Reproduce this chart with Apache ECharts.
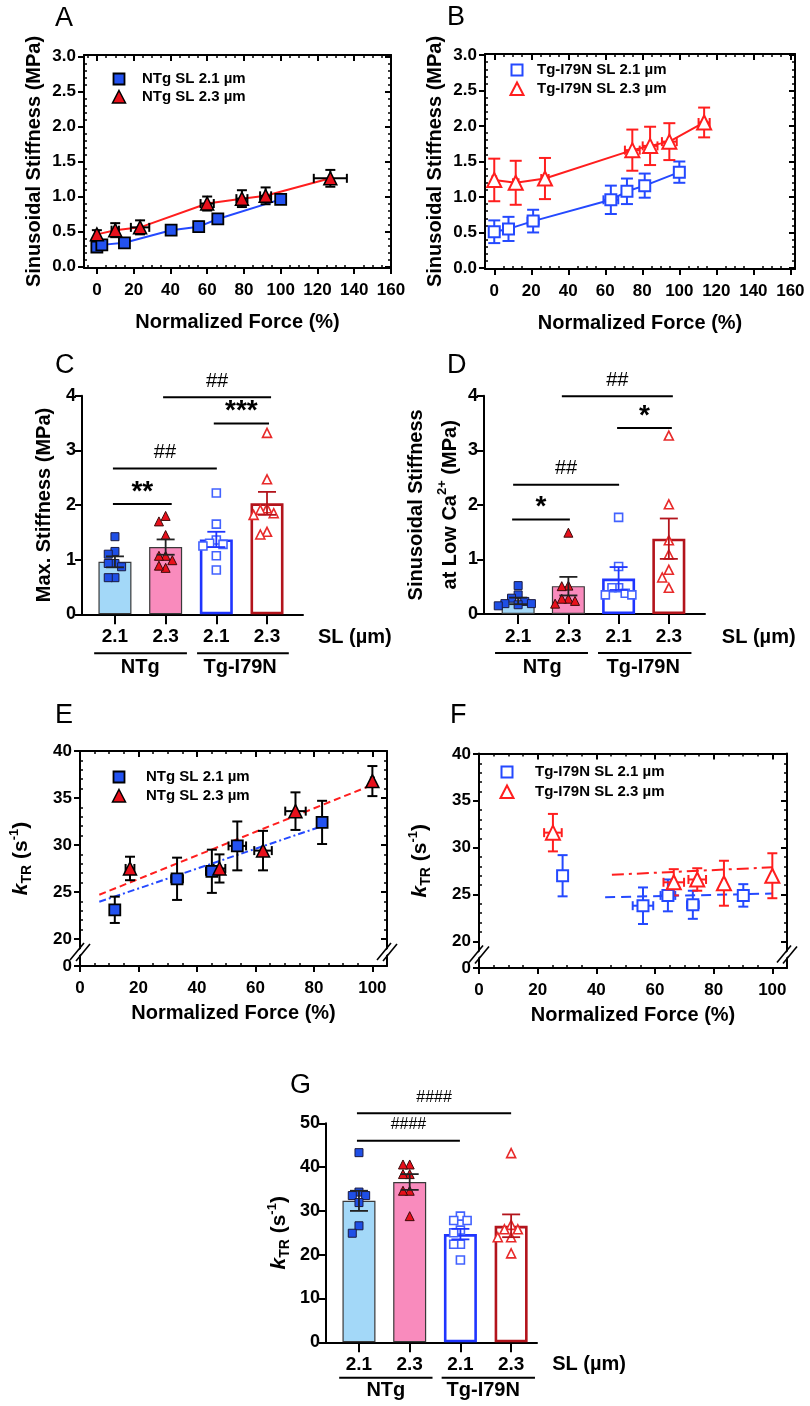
<!DOCTYPE html>
<html><head><meta charset="utf-8">
<script src="https://cdn.jsdelivr.net/npm/echarts@6/dist/echarts.min.js"></script>
<style>html,body{margin:0;padding:0;background:#fff}#c{width:810px;height:1406px}</style>
</head><body><div id="c"></div>
<script>
// ================= DATA =================
// Panel A (NTg): normalized force (%) vs sinusoidal stiffness (MPa)
const A_x21 = [0, 2.7, 15, 40.4, 55.4, 65.8, 100];
const A_y21 = [0.28, 0.31, 0.34, 0.52, 0.57, 0.68, 0.96];
const A_ey21 = [0.05, 0.05, 0.04, 0.06, 0.07, 0.05, 0.05];
const A_ex21 = [1, 1, 1, 1.5, 1.5, 2, 1];
const A_x23 = [0, 10, 23.5, 60, 78.9, 91.8, 127];
const A_y23 = [0.46, 0.52, 0.56, 0.9, 0.97, 1.01, 1.26];
const A_ey23 = [0.06, 0.1, 0.1, 0.1, 0.12, 0.12, 0.12];
const A_ex23 = [1, 2, 5, 3.6, 3, 3, 9];
// Panel B (Tg-I79N)
const B_x21 = [0, 7.7, 21, 63, 71.7, 81.3, 100];
const B_y21 = [0.51, 0.55, 0.66, 0.96, 1.08, 1.16, 1.35];
const B_ey21 = [0.16, 0.17, 0.16, 0.2, 0.18, 0.17, 0.15];
const B_ex21 = [1.5, 2, 3, 4, 2, 2, 1];
const B_x23 = [0, 11.6, 27.4, 74.6, 84.2, 94.6, 113.4];
const B_y23 = [1.24, 1.2, 1.26, 1.66, 1.72, 1.78, 2.05];
const B_ey23 = [0.3, 0.31, 0.29, 0.29, 0.27, 0.26, 0.21];
const B_ex23 = [1, 1.5, 2, 4, 4, 4, 3];
// Panel C: max stiffness (MPa)
const C_mean = [0.96, 1.23, 1.37, 2.03];
const C_sem = [0.1, 0.14, 0.14, 0.21];
const C_ntg21 = [1.42, 1.15, 1.10, 0.93, 0.93, 0.87, 0.67, 0.67];
const C_ntg23 = [1.80, 1.70, 1.45, 1.07, 1.07, 0.99, 0.85, 0.89];
const C_tg21 = [2.22, 1.65, 1.36, 1.30, 1.28, 1.25, 1.07, 0.81];
const C_tg23 = [3.32, 2.47, 1.94, 1.91, 1.85, 1.82, 1.51, 1.46];
const C_sigFrom = [-0.04, -0.04, 1.95, 0.95];
const C_sigTo = [1.12, 2.01, 3.04, 3.08];
const C_sigY = [2.02, 2.67, 3.49, 3.97];
const C_sigText = ['**', '##', '***', '##'];
// Panel D: sinusoidal stiffness at low Ca2+ (MPa)
const D_mean = [0.24, 0.51, 0.65, 1.38];
const D_sem = [0.06, 0.17, 0.21, 0.37];
const D_ntg21 = [0.52, 0.35, 0.29, 0.23, 0.19, 0.19, 0.17, 0.15];
const D_ntg23 = [1.49, 0.52, 0.51, 0.28, 0.28, 0.24, 0.19];
const D_tg21 = [1.77, 0.87, 0.48, 0.48, 0.38, 0.35, 0.35];
const D_tg23 = [3.27, 2.01, 1.35, 1.09, 0.81, 0.67, 0.48];
const D_sigFrom = [-0.12, -0.10, 1.97, 0.87];
const D_sigTo = [1.03, 2.01, 3.06, 3.08];
const D_sigY = [1.73, 2.37, 3.41, 3.99];
const D_sigText = ['*', '##', '*', '##'];
// Panel E (NTg): normalized force (%) vs kTR (s-1)
const E_x21 = [11.9, 33.2, 45.1, 53.8, 82.8];
const E_y21 = [23.1, 26.4, 27.2, 29.9, 32.4];
const E_ey21 = [1.4, 2.25, 2.3, 2.6, 2.3];
const E_ex21 = [0.5, 2, 2, 3, 1];
const E_x23 = [17.1, 47.7, 62.6, 73.7, 100];
const E_y23 = [27.5, 27.5, 29.4, 33.6, 36.8];
const E_ey23 = [1.25, 1.5, 2.1, 2.0, 1.6];
const E_ex23 = [1.5, 2, 3, 3.5, 0.5];
const E_fit21 = [[6.6, 23.95], [82.8, 32.0]];
const E_fit23 = [[6.6, 24.7], [100, 36.4]];
// Panel F (Tg-I79N)
const F_x21 = [28.5, 55.9, 64.4, 72.9, 90.1];
const F_y21 = [27.0, 23.8, 24.9, 23.9, 24.9];
const F_ey21 = [2.2, 1.95, 1.7, 1.5, 1.2];
const F_ex21 = [1, 3.5, 2.5, 2, 1];
const F_x23 = [25.2, 66.4, 74.4, 83.5, 100];
const F_y23 = [31.6, 26.3, 26.6, 26.2, 27.0];
const F_ey23 = [2.0, 1.4, 1.2, 2.4, 2.4];
const F_ex23 = [3, 3.5, 3, 0.5, 0];
const F_fit21 = [[43, 24.7], [100, 25.1]];
const F_fit23 = [[45.3, 27.1], [100, 27.9]];
// Panel G: kTR (s-1)
const G_mean = [32.3, 36.6, 24.7, 26.6];
const G_sem = [2.3, 1.8, 1.2, 2.6];
const G_ntg21 = [43.3, 34.3, 33.5, 33.5, 31.9, 26.6, 24.9];
const G_ntg23 = [40.6, 40.6, 38.4, 38.4, 34.6, 34.6, 28.8];
const G_tg21 = [28.8, 27.8, 27.8, 25.6, 25.0, 22.4, 22.4, 18.8];
const G_tg23 = [43.2, 26.8, 25.8, 25.8, 24.0, 24.0, 20.3];
const G_sigFrom = [-0.04, -0.04];
const G_sigTo = [1.99, 3.0];
const G_sigY = [46.0, 52.3];
const G_sigText = ['####', '####'];
// Tick labels and categories
const A_xTicks = [0, 20, 40, 60, 80, 100, 120, 140, 160];
const A_yTicks = [0, 0.5, 1, 1.5, 2, 2.5, 3];
const E_xTicks = [0, 20, 40, 60, 80, 100];
const E_yTicks = [20, 25, 30, 35, 40];
const E_breakLabel = '0';
const CD_yTicks = [0, 1, 2, 3, 4];
const G_yTicks = [0, 10, 20, 30, 40, 50];
const barCats = ['2.1', '2.3', '2.1', '2.3'];
const groupNames = ['NTg', 'Tg-I79N'];
const legendNTg = ['NTg SL 2.1 µm', 'NTg SL 2.3 µm'];
const legendTg = ['Tg-I79N SL 2.1 µm', 'Tg-I79N SL 2.3 µm'];

// ================= STYLE =================
const FONT = '"Liberation Sans", Arial, Helvetica, sans-serif';
const BLUE = '#2449ff', RED = '#ff1e1e';
const BLUE_FILL = '#2352f0', RED_FILL = '#e8101b';
const BAR_FILL = ['#a3d8f8', '#f98bbd', '#ffffff', '#ffffff'];
const BAR_BORDER = ['#3a3a3a', '#3a3a3a', '#1f35ff', '#b3141c'];
const BAR_BW = [1.2, 1.2, 2.6, 2.6];
const BAR_ERR = ['#222222', '#222222', '#1f35ff', '#b3141c'];

function range(a, b, s) { const r = []; for (let k = 0; a + k * s <= b + 1e-9; k++) r.push(+(a + k * s).toFixed(6)); return r; }
function minors(a, b, s, major) { return range(a, b, s).filter(v => Math.abs(v / major - Math.round(v / major)) > 1e-6); }

const grids = [
  {left: 84, top: 55, width: 307, height: 213},      // A
  {left: 485, top: 54, width: 310, height: 215},     // B
  {left: 82, top: 395.7, width: 221, height: 218.6}, // C
  {left: 484, top: 395.7, width: 221, height: 218.3},// D
  {left: 80, top: 751, width: 307, height: 215},     // E
  {left: 479, top: 753.5, width: 308, height: 214.5},// F
  {left: 326, top: 1123.3, width: 211, height: 219}  // G
];
grids.forEach(g => { g.containLabel = false; g.outerBoundsMode = 'none'; });

const xAxis = [], yAxis = [], mainX = [], mainY = [];
const BOLD = {color: '#000', fontWeight: 'bold', fontFamily: FONT};
const AXLINE = {show: true, onZero: false, lineStyle: {color: '#000', width: 2}};
function vAxis(g, rng, pos) {
  return {type: 'value', gridIndex: g, min: rng[0], max: rng[1], position: pos, silent: true,
    splitLine: {show: false}, axisLine: {show: false, onZero: false}, axisTick: {show: false}, axisLabel: {show: false}};
}
function tickAxis(g, rng, pos, ticks, len, inside, line) {
  const a = vAxis(g, rng, pos);
  if (line) a.axisLine = AXLINE;
  a.axisTick = {show: true, inside: inside, length: len, customValues: ticks, lineStyle: {color: '#000', width: len > 4 ? 2 : 1.5}};
  return a;
}
function labelAxis(g, rng, pos, ticks, fmt, fs, tickLen, margin) {
  const a = tickAxis(g, rng, pos, ticks, tickLen, false, true);
  a.axisLabel = Object.assign({show: true, customValues: ticks, formatter: fmt, fontSize: fs, margin: margin}, BOLD);
  return a;
}
const kName = '{k|k}{sub|TR}{n| (s}{sup|-1}{n|)}';
const kRich = {
  k: {fontStyle: 'italic', fontWeight: 'bold', fontSize: 21, fontFamily: FONT, color: '#000', lineHeight: 26, verticalAlign: 'middle'},
  sub: {fontWeight: 'bold', fontSize: 14, fontFamily: FONT, color: '#000', lineHeight: 26, verticalAlign: 'bottom'},
  sup: {fontWeight: 'bold', fontSize: 13, fontFamily: FONT, color: '#000', lineHeight: 26, verticalAlign: 'top'},
  n: {fontWeight: 'bold', fontSize: 21, fontFamily: FONT, color: '#000', lineHeight: 26, verticalAlign: 'middle'}
};
function addFrame(g, xr, yr, xMaj, xMin, yMaj, yMin, xFmt, yFmt, xName, yName, xGap, yGap, yRich) {
  mainX[g] = xAxis.length;
  const xb = labelAxis(g, xr, 'bottom', xMaj, xFmt, 17, 6, 14);
  Object.assign(xb, {name: xName, nameLocation: 'middle', nameGap: xGap, nameTextStyle: Object.assign({fontSize: 20}, BOLD)});
  xAxis.push(xb, tickAxis(g, xr, 'bottom', xMin, 3, true, false), tickAxis(g, xr, 'top', xMaj, 6, true, true), tickAxis(g, xr, 'top', xMin, 3, true, false));
  mainY[g] = yAxis.length;
  const yl = labelAxis(g, yr, 'left', yMaj, yFmt, 17, 6, 8);
  const nts = Object.assign({fontSize: 20}, BOLD);
  if (yRich) nts.rich = yRich;
  Object.assign(yl, {name: yName, nameLocation: 'middle', nameGap: yGap, nameRotate: 90, nameTextStyle: nts});
  yAxis.push(yl, tickAxis(g, yr, 'left', yMin, 3, true, false), tickAxis(g, yr, 'right', yMaj, 6, true, true), tickAxis(g, yr, 'right', yMin, 3, true, false));
}
function addBarAxes(g, xr, yr, yTicks, yName, yGap, yRich, yFs) {
  mainX[g] = xAxis.length;
  const xb = labelAxis(g, xr, 'bottom', [0, 1, 2, 3], v => barCats[Math.round(v)], 19, 10, 13);
  xAxis.push(xb);
  mainY[g] = yAxis.length;
  const yl = labelAxis(g, yr, 'left', yTicks, v => String(v), 18, 7, 6);
  const nts = Object.assign({fontSize: yFs || 20}, BOLD);
  if (yRich) nts.rich = yRich;
  Object.assign(yl, {name: yName, nameLocation: 'middle', nameGap: yGap, nameRotate: 90, nameTextStyle: nts});
  yAxis.push(yl);
}

const fmt1 = v => v.toFixed(1);
const fmtInt = v => String(Math.round(v));
const fmtBreak = v => v < 19 ? E_breakLabel : String(Math.round(v));
const Ax = [-7, 160], Ay = [-0.02, 3.02];
const Bx = [-5, 162.5], By = [-0.015, 3.015];
const Ex = [0, 105], Ey = [17.12, 40];
const Fx = [0, 105], Fy = [17.15, 40.05];
addFrame(0, Ax, Ay, A_xTicks, minors(-5, 160, 5, 20), A_yTicks, minors(0, 3, 0.1, 0.5), fmtInt, fmt1, 'Normalized Force (%)', 'Sinusoidal Stiffness (MPa)', 44, 40);
addFrame(1, Bx, By, A_xTicks, minors(-5, 160, 5, 20), A_yTicks, minors(0, 3, 0.1, 0.5), fmtInt, fmt1, 'Normalized Force (%)', 'Sinusoidal Stiffness (MPa)', 44, 40);
addBarAxes(2, [-0.65, 3.71], [0, 4], CD_yTicks, 'Max. Stiffness (MPa)', 28);
const dRich = {
  n: {fontWeight: 'bold', fontSize: 20, fontFamily: FONT, color: '#000', lineHeight: 40},
  m: {fontWeight: 'bold', fontSize: 20, fontFamily: FONT, color: '#000', lineHeight: 28},
  sup: {fontWeight: 'bold', fontSize: 13, fontFamily: FONT, color: '#000', lineHeight: 28, verticalAlign: 'top'}
};
addBarAxes(3, [-0.68, 3.72], [0, 4], CD_yTicks, '{n|Sinusoidal Stiffness}\n{m|at Low Ca}{sup|2+}{m| (MPa)}', 20, dRich);
addFrame(4, Ex, Ey, E_xTicks, minors(0, 105, 5, 20), [Ey[0]].concat(E_yTicks), minors(21, 39, 1, 5), fmtInt, fmtBreak, 'Normalized Force (%)', kName, 37, 46, kRich);
addFrame(5, Fx, Fy, E_xTicks, minors(0, 105, 5, 20), [Fy[0]].concat(E_yTicks), minors(21, 39, 1, 5), fmtInt, fmtBreak, 'Normalized Force (%)', kName, 37, 46, kRich);
addBarAxes(6, [-0.65, 3.51], [0, 50], G_yTicks, kName, 34, kRich);

// ================= SERIES =================
const series = [];
function ax(g) { return {xAxisIndex: mainX[g], yAxisIndex: mainY[g]}; }
function zip(xs, ys) { return xs.map((x, i) => [x, ys[i]]); }
function errSeries(g, xs, ys, eys, exs, color, cap) {
  series.push(Object.assign({
    type: 'custom', silent: true, z: 3, encode: {x: 0, y: 1},
    data: xs.map((x, i) => [x, ys[i], eys[i], exs[i]]),
    renderItem: (p, api) => {
      const x = api.value(0), y = api.value(1), ey = api.value(2), ex = api.value(3);
      const c = api.coord([x, y]), t = api.coord([x, y + ey]), b = api.coord([x, y - ey]);
      const st = {stroke: color, lineWidth: 2};
      const ch = [
        {type: 'line', shape: {x1: c[0], y1: t[1], x2: c[0], y2: b[1]}, style: st},
        {type: 'line', shape: {x1: c[0] - cap, y1: t[1], x2: c[0] + cap, y2: t[1]}, style: st},
        {type: 'line', shape: {x1: c[0] - cap, y1: b[1], x2: c[0] + cap, y2: b[1]}, style: st}
      ];
      if (ex > 0) {
        const l = api.coord([x - ex, y]), r = api.coord([x + ex, y]);
        ch.push({type: 'line', shape: {x1: l[0], y1: c[1], x2: r[0], y2: c[1]}, style: st});
        ch.push({type: 'line', shape: {x1: l[0], y1: c[1] - 4.5, x2: l[0], y2: c[1] + 4.5}, style: st});
        ch.push({type: 'line', shape: {x1: r[0], y1: c[1] - 4.5, x2: r[0], y2: c[1] + 4.5}, style: st});
      }
      return {type: 'group', children: ch};
    }
  }, ax(g)));
}
function markSeries(g, xs, ys, symbol, size, fill, stroke, bw) {
  series.push(Object.assign({type: 'scatter', silent: true, z: 4, data: zip(xs, ys), symbol, symbolSize: size,
    itemStyle: {color: fill, borderColor: stroke, borderWidth: bw, opacity: 1}}, ax(g)));
}
function lineSeries(g, data, color, type) {
  series.push(Object.assign({type: 'line', silent: true, z: 2, data, symbol: 'none', showSymbol: false,
    lineStyle: {color, width: 2, type: type || 'solid'}}, ax(g)));
}
// A
lineSeries(0, zip(A_x21, A_y21), BLUE);
lineSeries(0, zip(A_x23, A_y23), RED);
errSeries(0, A_x21, A_y21, A_ey21, A_ex21, '#000', 5);
errSeries(0, A_x23, A_y23, A_ey23, A_ex23, '#000', 5);
markSeries(0, A_x21, A_y21, 'rect', 11, BLUE_FILL, '#000', 1.8);
markSeries(0, A_x23, A_y23, 'triangle', 13, RED_FILL, '#000', 1.5);
// B
lineSeries(1, zip(B_x21, B_y21), BLUE);
lineSeries(1, zip(B_x23, B_y23), RED);
errSeries(1, B_x21, B_y21, B_ey21, B_ex21, BLUE, 6);
errSeries(1, B_x23, B_y23, B_ey23, B_ex23, RED, 6);
markSeries(1, B_x21, B_y21, 'rect', 11, '#fff', BLUE, 2);
markSeries(1, B_x23, B_y23, 'triangle', 14, '#fff', RED, 2);
// E
lineSeries(4, E_fit23, RED, [7, 4]);
lineSeries(4, E_fit21, BLUE, [7, 3, 2, 3]);
errSeries(4, E_x21, E_y21, E_ey21, E_ex21, '#000', 5);
errSeries(4, E_x23, E_y23, E_ey23, E_ex23, '#000', 5);
markSeries(4, E_x21, E_y21, 'rect', 11, BLUE_FILL, '#000', 1.8);
markSeries(4, E_x23, E_y23, 'triangle', 13, RED_FILL, '#000', 1.5);
// F
lineSeries(5, F_fit23, RED, [12, 5, 3, 5]);
lineSeries(5, F_fit21, BLUE, [10, 6]);
errSeries(5, F_x21, F_y21, F_ey21, F_ex21, BLUE, 5);
errSeries(5, F_x23, F_y23, F_ey23, F_ex23, RED, 5);
markSeries(5, F_x21, F_y21, 'rect', 11, '#fff', BLUE, 2);
markSeries(5, F_x23, F_y23, 'triangle', 14, '#fff', RED, 2);

// Bar panels
function swarm(vals, center, dx, thr) {
  const placed = [];
  return vals.map(v => {
    for (const k of [0, -1, 1, -2, 2, -3, 3]) {
      const x = center + k * dx;
      if (!placed.some(p => Math.abs(p[1] - v) < thr && Math.abs(p[0] - x) < dx * 0.9)) { placed.push([x, v]); return [x, v]; }
    }
    return [center, v];
  });
}
function barPanel(g, means, sems, groups, thr) {
  series.push(Object.assign({type: 'bar', silent: true, z: 2, barWidth: 33,
    data: means.map((m, i) => ({value: [i, m], itemStyle: {color: BAR_FILL[i], borderColor: BAR_BORDER[i], borderWidth: BAR_BW[i]}}))}, ax(g)));
  series.push(Object.assign({type: 'custom', silent: true, z: 5, encode: {x: 0, y: 1},
    data: means.map((m, i) => [i, m, sems[i]]),
    renderItem: (p, api) => {
      const x = api.value(0), m = api.value(1), s = api.value(2);
      const t = api.coord([x, m + s]), b = api.coord([x, m - s]);
      const st = {stroke: BAR_ERR[p.dataIndex], lineWidth: 1.8};
      return {type: 'group', children: [
        {type: 'line', shape: {x1: t[0], y1: t[1], x2: b[0], y2: b[1]}, style: st},
        {type: 'line', shape: {x1: t[0] - 9, y1: t[1], x2: t[0] + 9, y2: t[1]}, style: st},
        {type: 'line', shape: {x1: b[0] - 9, y1: b[1], x2: b[0] + 9, y2: b[1]}, style: st}
      ]};
    }}, ax(g)));
  const sty = [
    ['rect', 8, '#1f4fe6', '#1a1a40', 1],
    ['triangle', 9, '#e8101b', '#3a0a0a', 1],
    ['rect', 8, '#ffffff', '#4262ff', 1.6],
    ['triangle', 9, '#ffffff', '#e82a2a', 1.6]
  ];
  groups.forEach((vals, i) => {
    const pts = swarm(vals, i, 0.132, thr);
    const s = sty[i];
    series.push(Object.assign({type: 'scatter', silent: true, z: 4, data: pts, symbol: s[0], symbolSize: s[1],
      itemStyle: {color: s[2], borderColor: s[3], borderWidth: s[4], opacity: 1}}, ax(g)));
  });
}
barPanel(2, C_mean, C_sem, [C_ntg21, C_ntg23, C_tg21, C_tg23], 0.17);
barPanel(3, D_mean, D_sem, [D_ntg21, D_ntg23, D_tg21, D_tg23], 0.17);
barPanel(6, G_mean, G_sem, [G_ntg21, G_ntg23, G_tg21, G_tg23], 2.0);

const chart = echarts.init(document.getElementById('c'), null, {renderer: 'canvas', width: 810, height: 1406});
chart.setOption({animation: false, backgroundColor: '#fff', grid: grids, xAxis, yAxis, series});

// ================= ANNOTATIONS (positioned through the chart's scales) =================
const gEl = [];
const px = (g, x, y) => chart.convertToPixel({gridIndex: g}, [x, y]);
function txt(x, y, s, o) {
  gEl.push({type: 'text', x, y, silent: true, z: 100,
    style: Object.assign({text: s, fill: '#000', fontFamily: FONT, fontSize: 20, fontWeight: 'bold', align: 'center', verticalAlign: 'middle'}, o || {})});
}
function seg(x1, y1, x2, y2, color, w) {
  gEl.push({type: 'line', silent: true, z: 100, shape: {x1, y1, x2, y2}, style: {stroke: color || '#000', lineWidth: w || 2}});
}
// Panel letters
[['A', 55, 19], ['B', 447, 18], ['C', 55, 366], ['D', 447, 366], ['E', 55, 716], ['F', 450, 716], ['G', 290, 1086]]
  .forEach(l => txt(l[1], l[2], l[0], {fontSize: 27, fontWeight: 'normal', align: 'left'}));
// Legends
function legendItem(cx, cy, kind, fill, stroke, bw, label, tx) {
  if (kind === 'rect') gEl.push({type: 'rect', silent: true, z: 100, shape: {x: cx - 5.5, y: cy - 5.5, width: 11, height: 11}, style: {fill, stroke, lineWidth: bw}});
  else gEl.push({type: 'polygon', silent: true, z: 100, shape: {points: [[cx, cy - 6.5], [cx + 6.5, cy + 6], [cx - 6.5, cy + 6]]}, style: {fill, stroke, lineWidth: bw}});
  txt(tx, cy, label, {fontSize: 15, align: 'left'});
}
legendItem(119, 79, 'rect', BLUE_FILL, '#000', 1.8, legendNTg[0], 142);
legendItem(119, 97, 'tri', RED_FILL, '#000', 1.5, legendNTg[1], 142);
legendItem(517, 70, 'rect', '#fff', BLUE, 2, legendTg[0], 537);
legendItem(517, 89, 'tri', '#fff', RED, 2, legendTg[1], 537);
legendItem(119, 777, 'rect', BLUE_FILL, '#000', 1.8, legendNTg[0], 146);
legendItem(119, 796, 'tri', RED_FILL, '#000', 1.5, legendNTg[1], 146);
legendItem(507, 772, 'rect', '#fff', BLUE, 2, legendTg[0], 535);
legendItem(507, 792, 'tri', '#fff', RED, 2, legendTg[1], 535);
// Axis breaks on E and F
function brk(g, xv, yv) {
  const p = px(g, xv, yv);
  gEl.push({type: 'polygon', silent: true, z: 99, shape: {points: [[p[0] - 9, p[1] + 5], [p[0] - 3, p[1] + 5], [p[0] + 9, p[1] - 5], [p[0] + 3, p[1] - 5]]}, style: {fill: '#fff'}});
  seg(p[0] - 10, p[1] + 8, p[0] + 4, p[1] - 9, '#000', 1.6);
  seg(p[0] - 4, p[1] + 9, p[0] + 10, p[1] - 8, '#000', 1.6);
}
brk(4, Ex[0], 18.6); brk(4, Ex[1], 18.6);
brk(5, Fx[0], 18.6); brk(5, Fx[1], 18.6);
// Significance bars
function sig(g, from, to, ys, texts) {
  from.forEach((f, i) => {
    const a = px(g, f, ys[i]), b = px(g, to[i], ys[i]);
    seg(a[0], a[1], b[0], b[1], '#000', 2);
    const star = texts[i].indexOf('*') >= 0;
    const four = texts[i].length > 3;
    txt((a[0] + b[0]) / 2, a[1] - (star ? 12 : 16), texts[i],
      star ? {fontSize: 28, fontWeight: 'bold'} : {fontSize: four ? 16 : 20, fontWeight: 'normal'});
  });
}
sig(2, C_sigFrom, C_sigTo, C_sigY, C_sigText);
sig(3, D_sigFrom, D_sigTo, D_sigY, D_sigText);
sig(6, G_sigFrom, G_sigTo, G_sigY, G_sigText);
// Group labels under bar panels
function groupLabels(g, ulDy, nameDy, slDy, slDx, ul, centers) {
  const y0 = px(g, 0, 0)[1];
  seg(px(g, ul[0], 0)[0], y0 + ulDy, px(g, ul[1], 0)[0], y0 + ulDy, '#000', 2);
  seg(px(g, ul[2], 0)[0], y0 + ulDy, px(g, ul[3], 0)[0], y0 + ulDy, '#000', 2);
  txt(px(g, centers[0], 0)[0], y0 + nameDy, groupNames[0], {fontSize: 20});
  txt(px(g, centers[1], 0)[0], y0 + nameDy, groupNames[1], {fontSize: 20});
  txt(px(g, 3, 0)[0] + slDx, y0 + slDy, 'SL (µm)', {fontSize: 20, align: 'left'});
}
groupLabels(2, 39, 53, 23, 51, [-0.41, 1.42, 1.62, 3.43], [0.5, 2.47]);
groupLabels(3, 39, 53, 23, 53, [-0.46, 1.39, 1.59, 3.45], [0.48, 2.49]);
groupLabels(6, 35.5, 48, 22, 41, [-0.39, 1.45, 1.63, 3.47], [0.53, 2.45]);

chart.setOption({graphic: {elements: gEl}});
</script></body></html>
